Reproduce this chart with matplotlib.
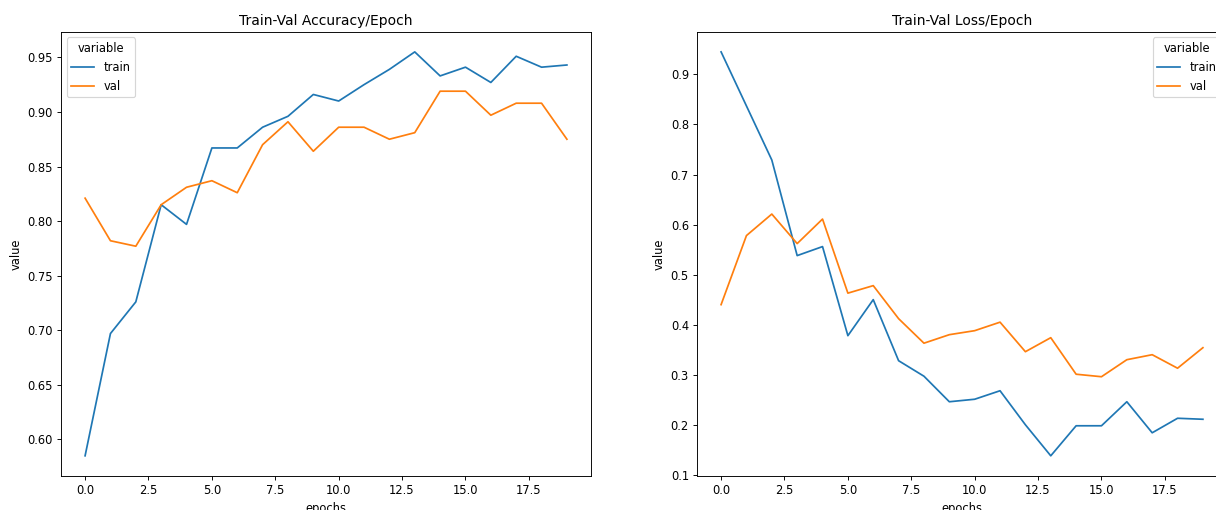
import numpy as np
import pandas as pd
import seaborn as sns
import matplotlib
matplotlib.use('Agg')
import matplotlib.pyplot as plt

epochs = list(range(20))

train_acc = [0.585, 0.697, 0.726, 0.815, 0.797, 0.867, 0.867, 0.886, 0.896, 0.916,
             0.910, 0.925, 0.939, 0.955, 0.933, 0.941, 0.927, 0.951, 0.941, 0.943]
val_acc = [0.821, 0.782, 0.777, 0.815, 0.831, 0.837, 0.826, 0.870, 0.891, 0.864,
           0.886, 0.886, 0.875, 0.881, 0.919, 0.919, 0.897, 0.908, 0.908, 0.875]

train_loss = [0.945, 0.837, 0.729, 0.538, 0.556, 0.378, 0.450, 0.328, 0.297, 0.246,
              0.251, 0.268, 0.200, 0.138, 0.198, 0.198, 0.246, 0.184, 0.213, 0.211]
val_loss = [0.440, 0.578, 0.621, 0.562, 0.611, 0.463, 0.478, 0.412, 0.363, 0.380,
            0.388, 0.405, 0.346, 0.374, 0.301, 0.296, 0.330, 0.340, 0.313, 0.354]

acc_df = pd.DataFrame({'epochs': epochs, 'train': train_acc, 'val': val_acc})
loss_df = pd.DataFrame({'epochs': epochs, 'train': train_loss, 'val': val_loss})
acc_long = acc_df.melt(id_vars=['epochs'])
loss_long = loss_df.melt(id_vars=['epochs'])

W, H, DPI = 1216, 510, 83
fig = plt.figure(figsize=(W / DPI, H / DPI), dpi=DPI)

# axes boxes in pixels: left, top, width, height
def box(x0, y_top, w, h):
    return [x0 / W, (H - y_top - h) / H, w / W, h / H]

ax1 = fig.add_axes(box(61, 31.7, 530, 444.3))
ax2 = fig.add_axes(box(697, 31.7, 530, 444.3))

sns.lineplot(data=acc_long, x='epochs', y='value', hue='variable', ax=ax1)
ax1.set_title('Train-Val Accuracy/Epoch')
ax1.legend(title='variable', loc='upper left')

sns.lineplot(data=loss_long, x='epochs', y='value', hue='variable', ax=ax2)
ax2.set_title('Train-Val Loss/Epoch')
ax2.legend(title='variable', loc='upper right')

fig.savefig('out.png', dpi=DPI)
